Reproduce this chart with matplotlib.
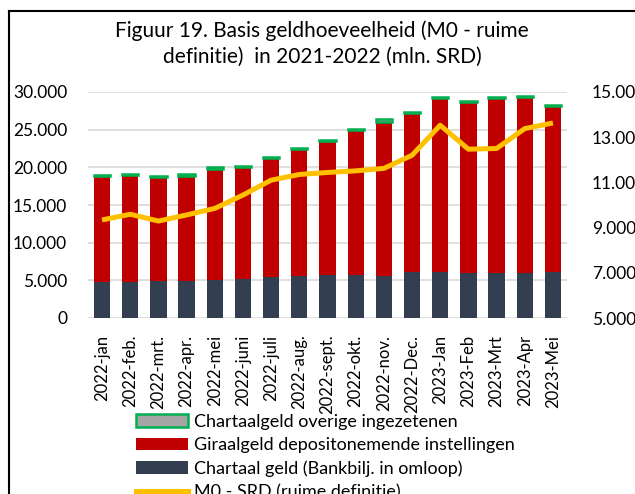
import matplotlib
matplotlib.use("Agg")
import matplotlib.pyplot as plt
from matplotlib.lines import Line2D
from matplotlib.patches import Patch
import numpy as np

plt.rcParams['font.family'] = ['Lato', 'DejaVu Sans']

maanden = ['2022-jan', '2022-feb.', '2022-mrt.', '2022-apr.', '2022-mei', '2022-juni',
           '2022-juli', '2022-aug.', '2022-sept.', '2022-okt.', '2022-nov.', '2022-Dec.',
           '2023-Jan', '2023-Feb', '2023-Mrt', '2023-Apr', '2023-Mei']
chartaal_geld = [4720, 4720, 4940, 4940, 5030, 5200, 5420, 5560, 5650, 5690, 5600, 6090,
                 6040, 5950, 5950, 5950, 6040]
giraalgeld = [14100, 14230, 13790, 13970, 14760, 14860, 15780, 16830, 17800, 19220, 20370,
              21110, 23150, 22660, 23240, 23370, 22040]
chartaal_overig = [130, 180, 150, 150, 200, 170, 160, 200, 200, 180, 450, 200, 200, 200,
                   200, 200, 230]
m0_srd = [9340, 9590, 9290, 9560, 9850, 10440, 11100, 11350, 11440, 11510, 11620, 12200,
          13530, 12470, 12500, 13380, 13630]

W, H = 635, 494
fig = plt.figure(figsize=(W / 100, H / 100), dpi=100)
ax = fig.add_axes([88 / W, 1 - 318 / H, 479 / W, 226 / H])

x = np.arange(len(maanden))
bw = 0.58
ax.bar(x, chartaal_geld, bw, color='#333f50', zorder=2)
ax.bar(x, giraalgeld, bw, bottom=chartaal_geld, color='#c00000', zorder=2)
bodem = np.array(chartaal_geld) + np.array(giraalgeld)
ax.bar(x, chartaal_overig, bw, bottom=bodem, color='#a5a5a5', edgecolor='#00b050',
       linewidth=1.8, zorder=2)

ax.set_xlim(-0.5, len(maanden) - 0.5)
ax.set_ylim(0, 30000)
ax.set_yticks(range(0, 30001, 5000))
ax.set_yticklabels([f"{v:,}".replace(',', '.') for v in range(0, 30001, 5000)])
ax.yaxis.grid(True, color='#d9d9d9', linewidth=1.2)
ax.set_axisbelow(True)
ax.set_xticks(x)
ax.set_xticklabels(maanden, rotation=90)
for s in ax.spines.values():
    s.set_visible(False)
ax.tick_params(axis='y', length=0, labelsize=12.5, colors='black', pad=15)
ax.tick_params(axis='x', length=0, labelsize=12, colors='black', pad=12)

ax2 = ax.twinx()
ax2.plot(x, m0_srd, color='#ffc000', linewidth=3.6, solid_capstyle='butt', zorder=3)
ax2.set_ylim(5000, 15000)
ax2.set_yticks(range(5000, 15001, 2000))
ax2.set_yticklabels([f"{v:,}".replace(',', '.') for v in range(5000, 15001, 2000)])
for s in ax2.spines.values():
    s.set_visible(False)
ax2.tick_params(axis='y', length=0, labelsize=12.5, pad=18)

fig.text(322 / W, 1 - 44 / H, "Figuur 19. Basis geldhoeveelheid (M0 - ruime\ndefinitie)  in 2021-2022 (mln. SRD)",
         ha='center', va='center', fontsize=15, linespacing=1.35)

handles = [Patch(facecolor='#a5a5a5', edgecolor='#00b050', linewidth=1.8),
           Patch(facecolor='#c00000'),
           Patch(facecolor='#333f50'),
           Line2D([0], [0], color='#ffc000', linewidth=3.6)]
labels = ['Chartaalgeld overige ingezetenen', 'Giraalgeld depositonemende instellingen',
          'Chartaal geld (Bankbilj. in omloop)', 'M0 - SRD (ruime definitie)']
fig.legend(handles, labels, loc='upper left', bbox_to_anchor=(136 / W, 1 - 414 / H),
           frameon=False, fontsize=13, borderpad=0, borderaxespad=0, handlelength=2.9,
           handletextpad=0.3, labelspacing=0.4)

# kader rond de grafiek
fig.add_artist(Line2D([9 / W, 9 / W], [0, 1 - 11 / H], transform=fig.transFigure,
                      color='black', linewidth=1.5))
fig.add_artist(Line2D([9 / W, 1], [1 - 11 / H, 1 - 11 / H], transform=fig.transFigure,
                      color='black', linewidth=1.5))

fig.savefig('out.png', dpi=100)
